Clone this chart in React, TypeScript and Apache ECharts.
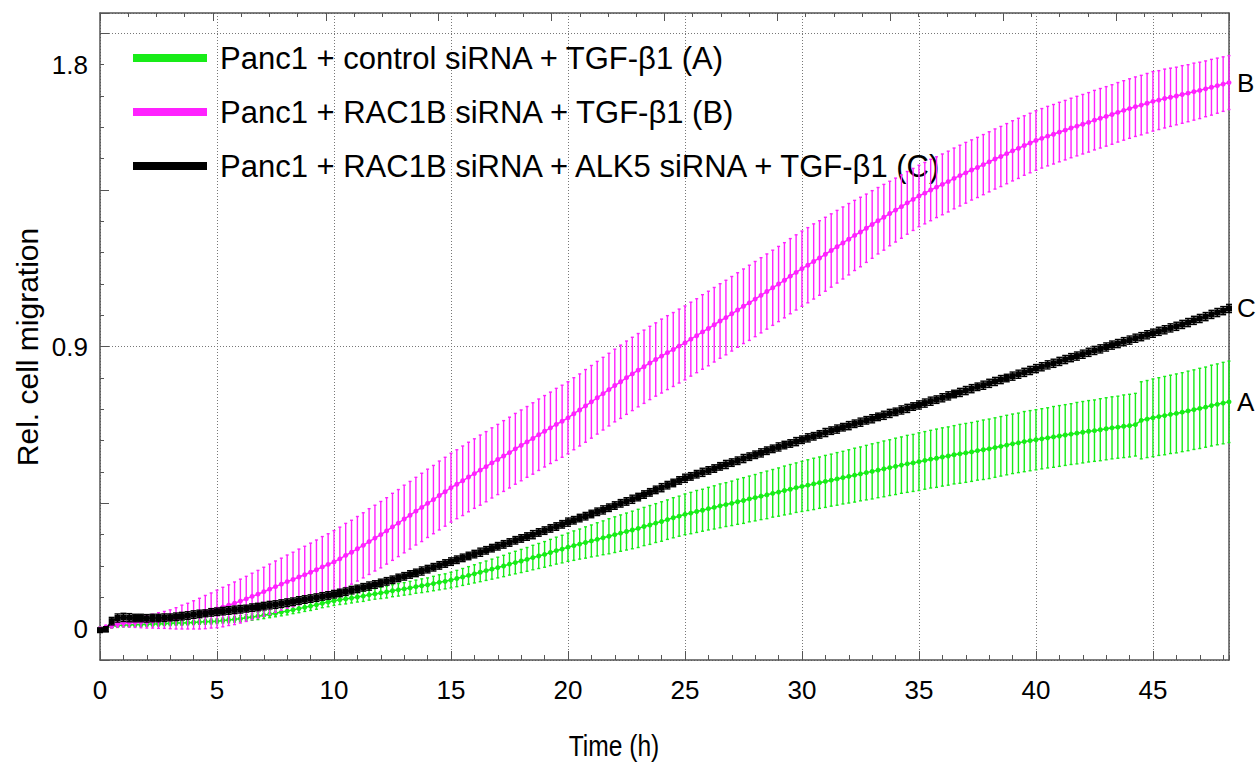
import React, { useEffect, useRef } from "react";
import * as echarts from "echarts";

const times = [
  0, 0.25, 0.5, 0.75, 1, 1.25, 1.5, 1.75, 2, 2.25, 2.5, 2.75, 3, 3.25, 3.5, 3.75,
  4, 4.25, 4.5, 4.75, 5, 5.25, 5.5, 5.75, 6, 6.25, 6.5, 6.75, 7, 7.25, 7.5, 7.75,
  8, 8.25, 8.5, 8.75, 9, 9.25, 9.5, 9.75, 10, 10.25, 10.5, 10.75, 11, 11.25, 11.5, 11.75,
  12, 12.25, 12.5, 12.75, 13, 13.25, 13.5, 13.75, 14, 14.25, 14.5, 14.75, 15, 15.25, 15.5, 15.75,
  16, 16.25, 16.5, 16.75, 17, 17.25, 17.5, 17.75, 18, 18.25, 18.5, 18.75, 19, 19.25, 19.5, 19.75,
  20, 20.25, 20.5, 20.75, 21, 21.25, 21.5, 21.75, 22, 22.25, 22.5, 22.75, 23, 23.25, 23.5, 23.75,
  24, 24.25, 24.5, 24.75, 25, 25.25, 25.5, 25.75, 26, 26.25, 26.5, 26.75, 27, 27.25, 27.5, 27.75,
  28, 28.25, 28.5, 28.75, 29, 29.25, 29.5, 29.75, 30, 30.25, 30.5, 30.75, 31, 31.25, 31.5, 31.75,
  32, 32.25, 32.5, 32.75, 33, 33.25, 33.5, 33.75, 34, 34.25, 34.5, 34.75, 35, 35.25, 35.5, 35.75,
  36, 36.25, 36.5, 36.75, 37, 37.25, 37.5, 37.75, 38, 38.25, 38.5, 38.75, 39, 39.25, 39.5, 39.75,
  40, 40.25, 40.5, 40.75, 41, 41.25, 41.5, 41.75, 42, 42.25, 42.5, 42.75, 43, 43.25, 43.5, 43.75,
  44, 44.25, 44.5, 44.75, 45, 45.25, 45.5, 45.75, 46, 46.25, 46.5, 46.75, 47, 47.25, 47.5, 47.75,
  48, 48.25,
];

// (A) Panc1 + control siRNA + TGF-b1
const meanA = [
  0, 0.004, 0.008, 0.01, 0.012, 0.012, 0.013, 0.013, 0.014, 0.015, 0.015, 0.016, 0.017, 0.018, 0.018, 0.019,
  0.02, 0.021, 0.022, 0.023, 0.024, 0.026, 0.028, 0.03, 0.032, 0.035, 0.037, 0.04, 0.043, 0.046, 0.049, 0.053,
  0.056, 0.06, 0.064, 0.068, 0.072, 0.076, 0.081, 0.085, 0.089, 0.092, 0.095, 0.098, 0.101, 0.104, 0.108, 0.111,
  0.114, 0.117, 0.121, 0.124, 0.127, 0.13, 0.134, 0.137, 0.14, 0.144, 0.148, 0.151, 0.155, 0.16, 0.165, 0.17,
  0.175, 0.18, 0.185, 0.19, 0.195, 0.2, 0.206, 0.211, 0.216, 0.221, 0.227, 0.232, 0.237, 0.243, 0.249, 0.254,
  0.26, 0.265, 0.27, 0.275, 0.28, 0.285, 0.29, 0.295, 0.3, 0.305, 0.31, 0.315, 0.32, 0.326, 0.331, 0.337,
  0.342, 0.348, 0.354, 0.359, 0.365, 0.369, 0.374, 0.378, 0.383, 0.387, 0.392, 0.396, 0.4, 0.405, 0.409, 0.414,
  0.418, 0.423, 0.427, 0.432, 0.436, 0.441, 0.445, 0.45, 0.454, 0.458, 0.462, 0.466, 0.47, 0.474, 0.478, 0.482,
  0.486, 0.49, 0.494, 0.498, 0.502, 0.506, 0.51, 0.514, 0.518, 0.522, 0.526, 0.529, 0.533, 0.537, 0.541, 0.544,
  0.548, 0.551, 0.555, 0.558, 0.561, 0.564, 0.568, 0.571, 0.574, 0.578, 0.582, 0.586, 0.59, 0.593, 0.597, 0.6,
  0.603, 0.606, 0.609, 0.612, 0.615, 0.618, 0.621, 0.624, 0.627, 0.63, 0.632, 0.635, 0.638, 0.641, 0.643, 0.646,
  0.648, 0.651, 0.665, 0.669, 0.673, 0.677, 0.68, 0.684, 0.687, 0.691, 0.695, 0.699, 0.703, 0.707, 0.712, 0.716,
  0.72, 0.724,
];
const errA = [
  0.004, 0.005, 0.006, 0.006, 0.006, 0.006, 0.006, 0.006, 0.006, 0.006, 0.006, 0.006, 0.007, 0.007, 0.007, 0.007,
  0.007, 0.007, 0.008, 0.008, 0.008, 0.008, 0.009, 0.009, 0.01, 0.01, 0.01, 0.011, 0.011, 0.011, 0.011, 0.012,
  0.012, 0.012, 0.013, 0.013, 0.014, 0.014, 0.014, 0.015, 0.015, 0.015, 0.016, 0.016, 0.016, 0.017, 0.017, 0.017,
  0.018, 0.019, 0.019, 0.02, 0.02, 0.021, 0.021, 0.022, 0.022, 0.023, 0.024, 0.024, 0.025, 0.026, 0.027, 0.028,
  0.029, 0.03, 0.031, 0.032, 0.033, 0.034, 0.035, 0.036, 0.037, 0.038, 0.039, 0.04, 0.041, 0.042, 0.043, 0.044,
  0.045, 0.047, 0.048, 0.05, 0.051, 0.053, 0.054, 0.056, 0.057, 0.058, 0.059, 0.06, 0.061, 0.061, 0.062, 0.062,
  0.063, 0.063, 0.064, 0.064, 0.065, 0.066, 0.067, 0.067, 0.068, 0.069, 0.07, 0.07, 0.071, 0.072, 0.073, 0.073,
  0.074, 0.075, 0.076, 0.076, 0.077, 0.078, 0.079, 0.079, 0.08, 0.081, 0.082, 0.082, 0.083, 0.083, 0.084, 0.084,
  0.085, 0.086, 0.086, 0.087, 0.088, 0.088, 0.089, 0.089, 0.09, 0.09, 0.091, 0.091, 0.092, 0.092, 0.092, 0.093,
  0.093, 0.093, 0.093, 0.094, 0.094, 0.094, 0.094, 0.095, 0.095, 0.095, 0.095, 0.095, 0.095, 0.095, 0.096, 0.096,
  0.096, 0.096, 0.096, 0.097, 0.097, 0.097, 0.097, 0.098, 0.098, 0.098, 0.098, 0.099, 0.099, 0.099, 0.099, 0.1,
  0.1, 0.1, 0.123, 0.123, 0.124, 0.124, 0.125, 0.125, 0.126, 0.126, 0.127, 0.127, 0.128, 0.128, 0.129, 0.129,
  0.13, 0.13,
];

// (B) Panc1 + RAC1B siRNA + TGF-b1
const meanB = [
  0, 0.005, 0.01, 0.015, 0.018, 0.019, 0.02, 0.021, 0.022, 0.024, 0.026, 0.028, 0.03, 0.033, 0.037, 0.04,
  0.044, 0.048, 0.053, 0.058, 0.063, 0.069, 0.075, 0.081, 0.088, 0.095, 0.103, 0.11, 0.118, 0.126, 0.134, 0.142,
  0.15, 0.157, 0.165, 0.172, 0.18, 0.188, 0.197, 0.205, 0.213, 0.223, 0.234, 0.244, 0.255, 0.266, 0.278, 0.289,
  0.3, 0.312, 0.325, 0.337, 0.35, 0.362, 0.375, 0.387, 0.4, 0.412, 0.425, 0.437, 0.45, 0.461, 0.472, 0.484,
  0.495, 0.506, 0.517, 0.529, 0.54, 0.551, 0.562, 0.574, 0.585, 0.596, 0.607, 0.619, 0.63, 0.641, 0.652, 0.662,
  0.673, 0.686, 0.698, 0.711, 0.724, 0.737, 0.75, 0.763, 0.776, 0.788, 0.801, 0.813, 0.825, 0.836, 0.848, 0.859,
  0.87, 0.881, 0.891, 0.902, 0.912, 0.924, 0.935, 0.947, 0.958, 0.97, 0.982, 0.993, 1.005, 1.017, 1.029, 1.04,
  1.052, 1.064, 1.076, 1.088, 1.1, 1.112, 1.125, 1.137, 1.149, 1.16, 1.172, 1.183, 1.195, 1.207, 1.219, 1.231,
  1.243, 1.255, 1.266, 1.278, 1.29, 1.302, 1.313, 1.325, 1.336, 1.347, 1.359, 1.37, 1.381, 1.39, 1.4, 1.409,
  1.418, 1.427, 1.437, 1.446, 1.455, 1.464, 1.472, 1.481, 1.49, 1.499, 1.507, 1.516, 1.525, 1.533, 1.542, 1.55,
  1.558, 1.565, 1.572, 1.578, 1.585, 1.591, 1.598, 1.604, 1.61, 1.616, 1.623, 1.629, 1.635, 1.641, 1.648, 1.654,
  1.66, 1.666, 1.671, 1.677, 1.683, 1.687, 1.692, 1.696, 1.7, 1.705, 1.709, 1.714, 1.718, 1.723, 1.728, 1.733,
  1.738, 1.743,
];
const errB = [
  0.004, 0.006, 0.008, 0.01, 0.012, 0.014, 0.016, 0.018, 0.02, 0.022, 0.025, 0.027, 0.03, 0.034, 0.038, 0.041,
  0.045, 0.049, 0.053, 0.056, 0.06, 0.063, 0.065, 0.068, 0.07, 0.072, 0.074, 0.076, 0.078, 0.08, 0.082, 0.083,
  0.085, 0.087, 0.089, 0.091, 0.093, 0.095, 0.097, 0.098, 0.1, 0.101, 0.102, 0.102, 0.103, 0.104, 0.105, 0.105,
  0.106, 0.106, 0.107, 0.107, 0.108, 0.108, 0.108, 0.109, 0.109, 0.109, 0.11, 0.11, 0.11, 0.11, 0.111, 0.111,
  0.111, 0.112, 0.112, 0.112, 0.112, 0.113, 0.113, 0.113, 0.113, 0.113, 0.114, 0.114, 0.114, 0.114, 0.115, 0.115,
  0.115, 0.115, 0.115, 0.116, 0.116, 0.116, 0.116, 0.116, 0.116, 0.117, 0.117, 0.117, 0.117, 0.117, 0.117, 0.117,
  0.118, 0.118, 0.118, 0.118, 0.118, 0.118, 0.118, 0.119, 0.119, 0.119, 0.119, 0.119, 0.119, 0.119, 0.119, 0.12,
  0.12, 0.12, 0.12, 0.12, 0.12, 0.12, 0.12, 0.12, 0.12, 0.12, 0.12, 0.119, 0.118, 0.117, 0.116, 0.115,
  0.114, 0.112, 0.111, 0.109, 0.108, 0.106, 0.105, 0.103, 0.102, 0.101, 0.1, 0.099, 0.098, 0.098, 0.098, 0.097,
  0.097, 0.097, 0.097, 0.097, 0.097, 0.096, 0.096, 0.096, 0.096, 0.096, 0.096, 0.096, 0.096, 0.096, 0.095, 0.095,
  0.095, 0.095, 0.095, 0.095, 0.095, 0.095, 0.095, 0.095, 0.095, 0.095, 0.095, 0.095, 0.095, 0.095, 0.095, 0.095,
  0.095, 0.095, 0.095, 0.095, 0.095, 0.094, 0.094, 0.093, 0.092, 0.092, 0.091, 0.091, 0.09, 0.089, 0.089, 0.088,
  0.087, 0.086,
];

// (C) Panc1 + RAC1B siRNA + ALK5 siRNA + TGF-b1
const meanC = [
  -0.005, -0.002, 0.024, 0.034, 0.036, 0.035, 0.034, 0.034, 0.033, 0.034, 0.034, 0.035, 0.036, 0.038, 0.04, 0.042,
  0.045, 0.047, 0.049, 0.052, 0.054, 0.056, 0.058, 0.06, 0.062, 0.064, 0.067, 0.069, 0.072, 0.075, 0.077, 0.08,
  0.083, 0.086, 0.09, 0.093, 0.096, 0.099, 0.103, 0.106, 0.11, 0.114, 0.118, 0.123, 0.127, 0.132, 0.136, 0.141,
  0.146, 0.151, 0.156, 0.162, 0.167, 0.173, 0.178, 0.184, 0.19, 0.196, 0.202, 0.208, 0.214, 0.22, 0.226, 0.232,
  0.238, 0.244, 0.25, 0.257, 0.263, 0.269, 0.275, 0.282, 0.288, 0.294, 0.3, 0.307, 0.313, 0.32, 0.326, 0.333,
  0.34, 0.346, 0.353, 0.359, 0.366, 0.373, 0.379, 0.386, 0.393, 0.4, 0.406, 0.413, 0.42, 0.428, 0.435, 0.443,
  0.45, 0.458, 0.465, 0.473, 0.48, 0.486, 0.493, 0.499, 0.505, 0.511, 0.518, 0.524, 0.53, 0.536, 0.543, 0.549,
  0.555, 0.561, 0.568, 0.574, 0.58, 0.586, 0.591, 0.597, 0.603, 0.609, 0.614, 0.62, 0.626, 0.632, 0.637, 0.643,
  0.648, 0.654, 0.659, 0.665, 0.67, 0.676, 0.681, 0.687, 0.692, 0.698, 0.703, 0.709, 0.714, 0.72, 0.726, 0.731,
  0.737, 0.743, 0.749, 0.754, 0.76, 0.766, 0.772, 0.777, 0.783, 0.789, 0.795, 0.8, 0.806, 0.812, 0.818, 0.824,
  0.83, 0.836, 0.842, 0.847, 0.853, 0.859, 0.865, 0.87, 0.876, 0.882, 0.888, 0.893, 0.899, 0.905, 0.91, 0.916,
  0.921, 0.927, 0.932, 0.938, 0.943, 0.949, 0.954, 0.96, 0.965, 0.971, 0.977, 0.984, 0.99, 0.996, 1.003, 1.009,
  1.015, 1.022,
];
const errC = [
  0.006, 0.008, 0.012, 0.013, 0.013, 0.013, 0.012, 0.012, 0.012, 0.012, 0.012, 0.012, 0.011, 0.012, 0.012, 0.012,
  0.012, 0.012, 0.011, 0.012, 0.012, 0.012, 0.012, 0.012, 0.012, 0.011, 0.012, 0.012, 0.012, 0.012, 0.012, 0.012,
  0.012, 0.012, 0.012, 0.012, 0.012, 0.012, 0.012, 0.012, 0.012, 0.012, 0.012, 0.012, 0.012, 0.012, 0.013, 0.012,
  0.012, 0.012, 0.012, 0.012, 0.012, 0.012, 0.012, 0.013, 0.012, 0.012, 0.012, 0.012, 0.012, 0.012, 0.012, 0.012,
  0.012, 0.013, 0.012, 0.012, 0.012, 0.012, 0.012, 0.012, 0.012, 0.012, 0.013, 0.012, 0.012, 0.012, 0.012, 0.012,
  0.013, 0.012, 0.012, 0.012, 0.012, 0.012, 0.013, 0.012, 0.012, 0.012, 0.012, 0.013, 0.012, 0.012, 0.012, 0.012,
  0.013, 0.012, 0.012, 0.012, 0.013, 0.012, 0.012, 0.013, 0.012, 0.012, 0.012, 0.013, 0.012, 0.012, 0.013, 0.012,
  0.012, 0.013, 0.012, 0.012, 0.013, 0.012, 0.012, 0.013, 0.012, 0.013, 0.012, 0.012, 0.013, 0.012, 0.013, 0.012,
  0.013, 0.012, 0.013, 0.012, 0.013, 0.012, 0.013, 0.013, 0.012, 0.013, 0.013, 0.012, 0.013, 0.013, 0.013, 0.012,
  0.013, 0.013, 0.012, 0.013, 0.013, 0.013, 0.012, 0.013, 0.013, 0.013, 0.013, 0.012, 0.013, 0.013, 0.013, 0.013,
  0.013, 0.013, 0.013, 0.013, 0.013, 0.013, 0.013, 0.013, 0.013, 0.013, 0.013, 0.013, 0.013, 0.013, 0.013, 0.013,
  0.013, 0.013, 0.013, 0.013, 0.013, 0.013, 0.013, 0.013, 0.013, 0.013, 0.013, 0.013, 0.013, 0.013, 0.013, 0.013,
  0.013, 0.013,
];

const seriesNames = [
  "Panc1 + control siRNA + TGF-β1 (A)",
  "Panc1 + RAC1B siRNA + TGF-β1 (B)",
  "Panc1 + RAC1B siRNA + ALK5 siRNA + TGF-β1 (C)",
];
const endTags = ["A", "B", "C"];
const seriesColors = ["#18ec18", "#ff22ff", "#000000"];
const yTickLabels = [0, 0.9, 1.8];
const xTitle = "Time (h)";
const yTitle = "Rel. cell migration";

const FONT = '"Liberation Sans", Arial, Helvetica, sans-serif';
const AXIS_COLOR = "#555555";
const GRID_DASH = [1, 2];

function errRender(color: string, cap: number, lw: number) {
  return (params: any, api: any) => {
    const x = api.value(0);
    const top = api.coord([x, api.value(2)]);
    const bot = api.coord([x, api.value(1)]);
    const style = { stroke: color, lineWidth: lw };
    return {
      type: "group",
      children: [
        { type: "line", shape: { x1: top[0], y1: top[1], x2: bot[0], y2: bot[1] }, style },
        { type: "line", shape: { x1: top[0] - cap, y1: top[1], x2: top[0] + cap, y2: top[1] }, style },
        { type: "line", shape: { x1: bot[0] - cap, y1: bot[1], x2: bot[0] + cap, y2: bot[1] }, style },
      ],
    };
  };
}

export default function App() {
  const ref = useRef<HTMLDivElement>(null);
  useEffect(() => {
    if (!ref.current) return;
    const chart = echarts.init(ref.current, undefined, { renderer: "svg" });
    const means = [meanA, meanB, meanC];
    const errs = [errA, errB, errC];
    const symbols = ["circle", "circle", "rect"];
    const symbolSizes = [5, 5, 6];
    const caps = [1.5, 1.5, 3];

    const series: any[] = [];
    means.forEach((m, k) => {
      series.push({
        type: "custom",
        name: seriesNames[k] + " err",
        xAxisIndex: 0,
        yAxisIndex: 0,
        renderItem: errRender(seriesColors[k], caps[k], 1.4),
        encode: { x: 0, y: [1, 2] },
        data: times.map((t, i) => [t, m[i] - errs[k][i], m[i] + errs[k][i]]),
        z: 2 + k * 2,
        silent: true,
      });
      series.push({
        type: "line",
        name: seriesNames[k],
        xAxisIndex: 0,
        yAxisIndex: 0,
        data: times.map((t, i) => [t, m[i]]),
        symbol: symbols[k],
        symbolSize: symbolSizes[k],
        showSymbol: true,
        showAllSymbol: true,
        lineStyle: { color: seriesColors[k], width: 1.5 },
        itemStyle: { color: seriesColors[k] },
        z: 3 + k * 2,
        endLabel: {
          show: true,
          formatter: endTags[k],
          distance: 8,
          color: "#000",
          fontSize: 26,
          fontFamily: FONT,
        },
      });
    });

    chart.setOption({
      animation: false,
      backgroundColor: "#ffffff",
      grid: { left: 100, right: 29, top: 13, bottom: 105, containLabel: false },
      legend: {
        data: seriesNames,
        orient: "vertical",
        left: 128,
        top: 33,
        icon: "rect",
        itemWidth: 74,
        itemHeight: 8,
        itemGap: 14,
        selectedMode: false,
        textStyle: {
          fontSize: 31,
          lineHeight: 40,
          fontFamily: FONT,
          color: "#000",
          padding: [0, 0, 0, 8],
        },
      },
      xAxis: [
        {
          type: "value",
          position: "bottom",
          min: 0,
          max: 48.25,
          interval: 5,
          axisLine: { show: true, onZero: false, lineStyle: { color: AXIS_COLOR, width: 1.5 } },
          axisTick: { show: true, inside: true, length: 9, lineStyle: { color: AXIS_COLOR } },
          axisLabel: { show: true, showMaxLabel: false, margin: 17, fontSize: 26, fontFamily: FONT, color: "#000" },
          splitLine: { show: true, lineStyle: { color: "#777", type: GRID_DASH, width: 1 } },
        },
        {
          type: "value",
          position: "bottom",
          min: 0,
          max: 48.25,
          interval: 1,
          axisLine: { show: false, onZero: false },
          axisTick: { show: true, inside: true, length: 5, lineStyle: { color: AXIS_COLOR } },
          axisLabel: { show: false },
          splitLine: { show: false },
        },
        {
          type: "value",
          position: "top",
          min: 0,
          max: 50,
          interval: 5,
          axisLine: { show: true, onZero: false, lineStyle: { color: AXIS_COLOR, width: 1.5 } },
          axisTick: { show: true, inside: true, length: 8, lineStyle: { color: AXIS_COLOR } },
          minorTick: { show: true, splitNumber: 4, length: 4, lineStyle: { color: AXIS_COLOR } },
          axisLabel: { show: false },
          splitLine: { show: false },
        },
      ],
      yAxis: [
        {
          type: "value",
          position: "left",
          min: -0.1,
          max: 1.965,
          interval: 0.1,
          axisLine: { show: true, onZero: false, lineStyle: { color: AXIS_COLOR, width: 1.5 } },
          axisTick: { show: true, inside: true, length: 4, lineStyle: { color: AXIS_COLOR } },
          axisLabel: {
            show: true,
            margin: 12,
            fontSize: 26,
            fontFamily: FONT,
            color: "#000",
            formatter: (v: number) => {
              const m = yTickLabels.find((l) => Math.abs(l - v) < 1e-6);
              return m === undefined ? "" : String(m);
            },
          },
          splitLine: { show: false },
        },
        {
          type: "value",
          position: "left",
          min: 0,
          max: 2.065,
          interval: 0.5,
          axisLine: { show: false, onZero: false },
          axisTick: { show: true, inside: true, length: 9, lineStyle: { color: AXIS_COLOR } },
          axisLabel: { show: false },
          splitLine: { show: false },
        },
        {
          type: "value",
          position: "left",
          min: 0,
          max: 2.065,
          interval: 1,
          axisLine: { show: false, onZero: false },
          axisTick: { show: false },
          axisLabel: { show: false },
          splitLine: { show: true, lineStyle: { color: "#777", type: GRID_DASH, width: 1 } },
        },
        {
          type: "value",
          position: "right",
          min: -0.1,
          max: 1.965,
          axisLine: { show: true, onZero: false, lineStyle: { color: AXIS_COLOR, width: 1.5 } },
          axisTick: { show: false },
          axisLabel: { show: false },
          splitLine: { show: false },
        },
      ],
      graphic: [
        {
          type: "text",
          x: 614,
          y: 746,
          scaleX: 0.82,
          style: { text: xTitle, fontSize: 30, fontFamily: FONT, fill: "#000", align: "center", verticalAlign: "middle" },
        },
        {
          type: "text",
          x: 27,
          y: 347,
          rotation: Math.PI / 2,
          style: { text: yTitle, fontSize: 30, fontFamily: FONT, fill: "#000", align: "center", verticalAlign: "middle" },
        },
      ],
      series,
    });
    return () => chart.dispose();
  }, []);
  return <div ref={ref} style={{ position: "absolute", left: 0, top: 0, width: 1258, height: 765 }} />;
}
